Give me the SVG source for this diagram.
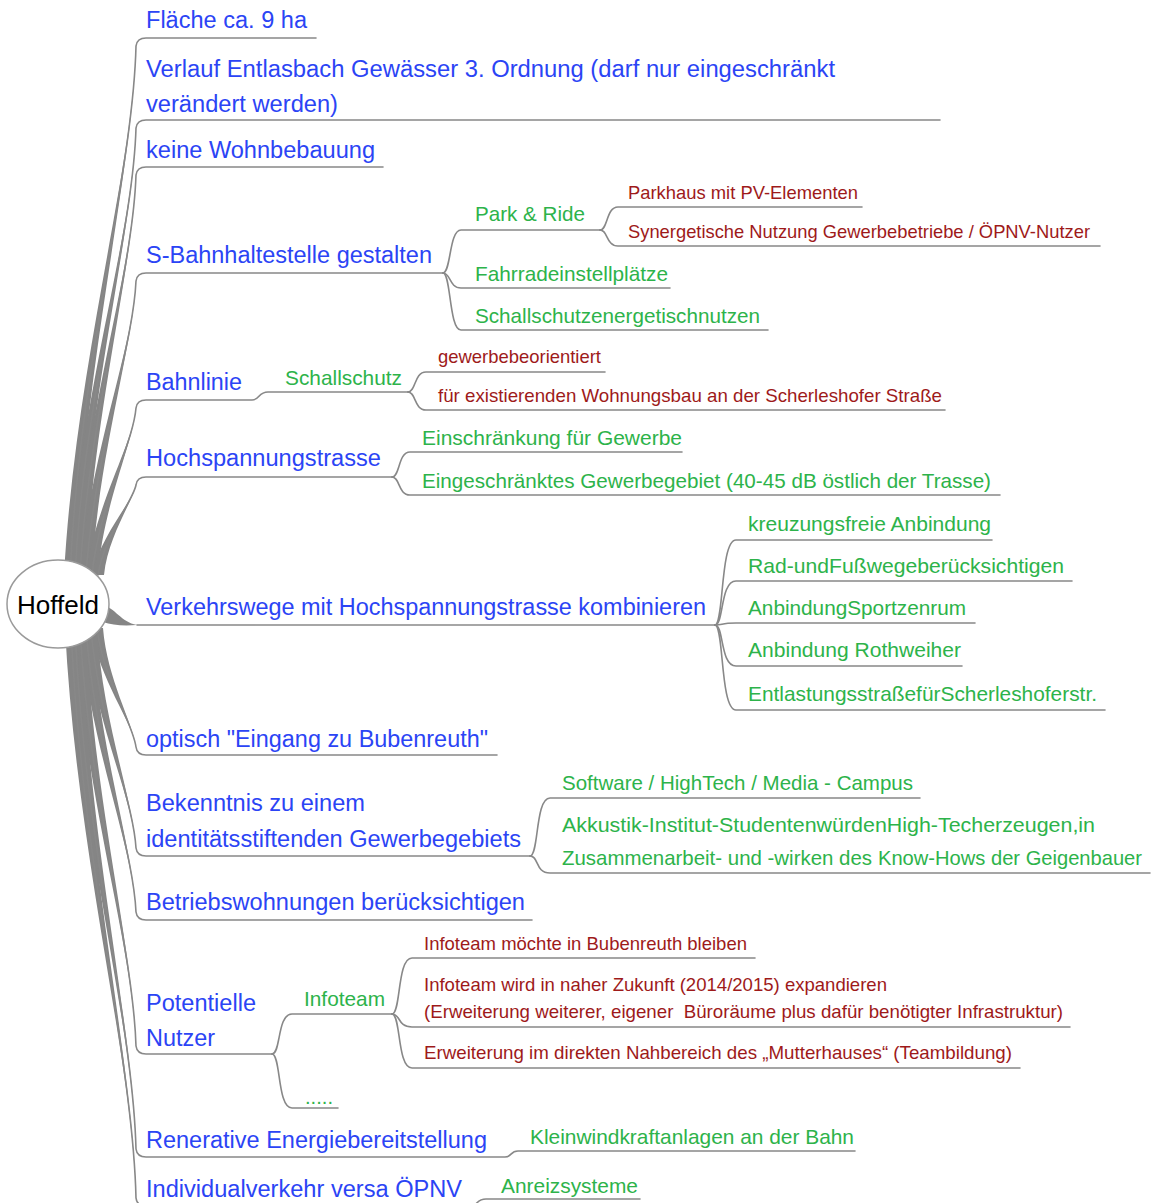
<svg xmlns="http://www.w3.org/2000/svg" width="1155" height="1203" viewBox="0 0 1155 1203">
  <style>
    text { font-family: "Liberation Sans", Arial, sans-serif; }
    .b { fill: #2b44f5; font-size: 23px; }
    .g { fill: #2db34a; font-size: 21px; }
    .r { fill: #9e1a1a; font-size: 19px; }
    .root { fill: #000; font-size: 25px; }
    .ln { fill: none; stroke: #888; stroke-width: 1.6; stroke-linecap: round; }
    .w { fill: #858585; stroke: none; }
  </style>
  <rect width="1155" height="1203" fill="#fff"/>

  <g id="connectors">
    <!-- tapered main branches leaving the root -->
    <g class="w">
      <path d="M64,575 C76,360 133,172 136,46 C133,172 84,360 76,575 Z"/>
      <path d="M69,575 C80,393 133,234 136,128 C133,234 88,393 81,575 Z"/>
      <path d="M74,575 C85,412 133,269 136,175 C133,269 93,412 86,575 Z"/>
      <path d="M80,575 C90,454 133,348 136,281 C133,348 98,454 92,575 Z"/>
      <path d="M86,575 C95,505 133,444 136,408 C133,444 103,505 98,575 Z"/>
      <path d="M92,575 C100,536 133,501 136,485 C133,501 108,536 104,575 Z"/>
      <path d="M103,605 C115,608 121,622 137,625 C122,626 112,625 103,622 Z"/>
      <path d="M91,628 C99,679 133,723 136,747 C133,723 107,679 103,628 Z"/>
      <path d="M85,628 C94,719 133,799 136,848 C133,799 102,719 97,628 Z"/>
      <path d="M80,628 C90,745 133,847 136,912 C133,847 98,745 92,628 Z"/>
      <path d="M74,628 C85,798 133,947 136,1046 C133,947 93,798 86,628 Z"/>
      <path d="M69,628 C80,840 133,1025 136,1149 C133,1025 88,840 81,628 Z"/>
      <path d="M65,628 C77,859 133,1061 136,1198 C133,1061 85,859 77,628 Z"/>
    </g>
    <g class="ln">
      <path d="M70,575 C80,360 133,172 136,46 Q137,38 146,38 H316"/>
      <path d="M75,575 C84,393 133,234 136,128 Q137,120 146,120 H940"/>
      <path d="M80,575 C89,412 133,269 136,175 Q137,167 146,167 H383"/>
      <path d="M86,575 C94,454 133,348 136,281 Q137,273 146,273 H443"/>
      <path d="M92,575 C99,505 133,444 136,408 Q137,400 146,400 H252 C260,400 258,392 268,392 H408"/>
      <path d="M98,575 C104,536 133,501 136,485 Q137,477 146,477 H392"/>
      <path d="M137,625 H715"/>
      <path d="M97,628 C103,679 133,723 136,747 Q137,755 146,755 H497"/>
      <path d="M91,628 C98,719 133,799 136,848 Q137,856 146,856 H530"/>
      <path d="M86,628 C94,745 133,847 136,912 Q137,920 146,920 H532"/>
      <path d="M80,628 C89,798 133,947 136,1046 Q137,1054 146,1054 H272"/>
      <path d="M75,628 C84,840 133,1025 136,1149 Q137,1157 146,1157 H505 C512,1157 510,1151 518,1151 H855"/>
      <path d="M71,628 C81,859 133,1061 136,1198 Q137,1206 146,1206 H470 C478,1206 476,1199 486,1199 H640"/>

      <!-- S-Bahnhaltestelle -->
      <path d="M443,273 C451,273 449,230 461,230 H600"/>
      <path d="M443,273 C451,273 449,288 461,288 H670"/>
      <path d="M443,273 C451,273 449,330 461,330 H768"/>
      <!-- Park & Ride -->
      <path d="M600,230 C608,230 606,207 618,207 H862"/>
      <path d="M600,230 C608,230 606,246 618,246 H1100"/>
      <!-- Schallschutz -->
      <path d="M408,392 C416,392 414,372 426,372 H605"/>
      <path d="M408,392 C416,392 414,410 426,410 H945"/>
      <!-- Hochspannungstrasse -->
      <path d="M392,477 C400,477 398,452 410,452 H682"/>
      <path d="M392,477 C400,477 398,495 410,495 H1000"/>
      <!-- Verkehrswege -->
      <path d="M715,625 C724,625 720,540 736,540 H992"/>
      <path d="M715,625 C724,625 720,581 736,581 H1072"/>
      <path d="M715,625 C724,625 720,623 736,623 H975"/>
      <path d="M715,625 C724,625 720,666 736,666 H962"/>
      <path d="M715,625 C724,625 720,710 736,710 H1105"/>
      <!-- Bekenntnis -->
      <path d="M530,856 C539,856 535,798 550,798 H920"/>
      <path d="M530,856 C539,856 535,873 550,873 H1150"/>
      <!-- Potentielle Nutzer -->
      <path d="M272,1054 C281,1054 277,1014 292,1014 H392"/>
      <path d="M272,1054 C281,1054 277,1108 292,1108 H338"/>
      <!-- Infoteam -->
      <path d="M392,1014 C401,1014 397,958 412,958 H755"/>
      <path d="M392,1014 C401,1014 397,1027 412,1027 H1070"/>
      <path d="M392,1014 C401,1014 397,1068 412,1068 H1020"/>
    </g>
  </g>

  <g id="root">
    <ellipse cx="58" cy="604" rx="51" ry="44" fill="#fff" stroke="#9a9a9a" stroke-width="1.5"/>
    <text class="root" x="58" y="614" text-anchor="middle" textLength="82" lengthAdjust="spacingAndGlyphs">Hoffeld</text>
  </g>

  <g id="n-flaeche"><text class="b" x="146" y="28" textLength="161" lengthAdjust="spacingAndGlyphs">Fläche ca. 9 ha</text></g>
  <g id="n-verlauf">
    <text class="b" x="146" y="77" textLength="689" lengthAdjust="spacingAndGlyphs">Verlauf Entlasbach Gewässer 3. Ordnung (darf nur eingeschränkt</text>
    <text class="b" x="146" y="112" textLength="192" lengthAdjust="spacingAndGlyphs">verändert werden)</text>
  </g>
  <g id="n-keine"><text class="b" x="146" y="158" textLength="229" lengthAdjust="spacingAndGlyphs">keine Wohnbebauung</text></g>

  <g id="n-sbahn"><text class="b" x="146" y="263" textLength="286" lengthAdjust="spacingAndGlyphs">S-Bahnhaltestelle gestalten</text></g>
  <g id="n-parkride"><text class="g" x="475" y="221" textLength="110" lengthAdjust="spacingAndGlyphs">Park &amp; Ride</text></g>
  <g id="n-parkhaus"><text class="r" x="628" y="199" textLength="230" lengthAdjust="spacingAndGlyphs">Parkhaus mit PV-Elementen</text></g>
  <g id="n-synergie"><text class="r" x="628" y="238" textLength="462" lengthAdjust="spacingAndGlyphs">Synergetische Nutzung Gewerbebetriebe / ÖPNV-Nutzer</text></g>
  <g id="n-fahrrad"><text class="g" x="475" y="281" textLength="193" lengthAdjust="spacingAndGlyphs">Fahrradeinstellplätze</text></g>
  <g id="n-schallenerg"><text class="g" x="475" y="323" textLength="285" lengthAdjust="spacingAndGlyphs">Schallschutzenergetischnutzen</text></g>

  <g id="n-bahnlinie"><text class="b" x="146" y="390" textLength="96" lengthAdjust="spacingAndGlyphs">Bahnlinie</text></g>
  <g id="n-schallschutz"><text class="g" x="285" y="385" textLength="117" lengthAdjust="spacingAndGlyphs">Schallschutz</text></g>
  <g id="n-gewerbeorient"><text class="r" x="438" y="363" textLength="163" lengthAdjust="spacingAndGlyphs">gewerbebeorientiert</text></g>
  <g id="n-wohnungsbau"><text class="r" x="438" y="402" textLength="504" lengthAdjust="spacingAndGlyphs">für existierenden Wohnungsbau an der Scherleshofer Straße</text></g>

  <g id="n-hochsp"><text class="b" x="146" y="466" textLength="235" lengthAdjust="spacingAndGlyphs">Hochspannungstrasse</text></g>
  <g id="n-einschraenkung"><text class="g" x="422" y="445" textLength="260" lengthAdjust="spacingAndGlyphs">Einschränkung für Gewerbe</text></g>
  <g id="n-gewerbegebiet"><text class="g" x="422" y="488" textLength="569" lengthAdjust="spacingAndGlyphs">Eingeschränktes Gewerbegebiet (40-45 dB östlich der Trasse)</text></g>

  <g id="n-verkehrswege"><text class="b" x="146" y="615" textLength="560" lengthAdjust="spacingAndGlyphs">Verkehrswege mit Hochspannungstrasse kombinieren</text></g>
  <g id="n-kreuzung"><text class="g" x="748" y="531" textLength="243" lengthAdjust="spacingAndGlyphs">kreuzungsfreie Anbindung</text></g>
  <g id="n-radfuss"><text class="g" x="748" y="573" textLength="316" lengthAdjust="spacingAndGlyphs">Rad-undFußwegeberücksichtigen</text></g>
  <g id="n-sport"><text class="g" x="748" y="615" textLength="218" lengthAdjust="spacingAndGlyphs">AnbindungSportzenrum</text></g>
  <g id="n-rothweiher"><text class="g" x="748" y="657" textLength="213" lengthAdjust="spacingAndGlyphs">Anbindung Rothweiher</text></g>
  <g id="n-entlastung"><text class="g" x="748" y="701" textLength="349" lengthAdjust="spacingAndGlyphs">EntlastungsstraßefürScherleshoferstr.</text></g>

  <g id="n-eingang"><text class="b" x="146" y="747" textLength="342" lengthAdjust="spacingAndGlyphs">optisch "Eingang zu Bubenreuth"</text></g>

  <g id="n-bekenntnis">
    <text class="b" x="146" y="811" textLength="219" lengthAdjust="spacingAndGlyphs">Bekenntnis zu einem</text>
    <text class="b" x="146" y="847" textLength="375" lengthAdjust="spacingAndGlyphs">identitätsstiftenden Gewerbegebiets</text>
  </g>
  <g id="n-software"><text class="g" x="562" y="790" textLength="351" lengthAdjust="spacingAndGlyphs">Software / HighTech / Media - Campus</text></g>
  <g id="n-akkustik">
    <text class="g" x="562" y="832" textLength="533" lengthAdjust="spacingAndGlyphs">Akkustik-Institut-StudentenwürdenHigh-Techerzeugen,in</text>
    <!-- second line set in two runs so each keeps a tight width -->
    <text class="g" x="562" y="865" textLength="310" lengthAdjust="spacingAndGlyphs">Zusammenarbeit- und -wirken des</text>
    <text class="g" x="878" y="865" textLength="264" lengthAdjust="spacingAndGlyphs">Know-Hows der Geigenbauer</text>
  </g>

  <g id="n-betrieb"><text class="b" x="146" y="910" textLength="379" lengthAdjust="spacingAndGlyphs">Betriebswohnungen berücksichtigen</text></g>

  <g id="n-nutzer">
    <text class="b" x="146" y="1011" textLength="110" lengthAdjust="spacingAndGlyphs">Potentielle</text>
    <text class="b" x="146" y="1046" textLength="69" lengthAdjust="spacingAndGlyphs">Nutzer</text>
  </g>
  <g id="n-infoteam"><text class="g" x="304" y="1006" textLength="81" lengthAdjust="spacingAndGlyphs">Infoteam</text></g>
  <g id="n-bleiben"><text class="r" x="424" y="950" textLength="323" lengthAdjust="spacingAndGlyphs">Infoteam möchte in Bubenreuth bleiben</text></g>
  <g id="n-expandieren">
    <text class="r" x="424" y="991" textLength="463" lengthAdjust="spacingAndGlyphs">Infoteam wird in naher Zukunft (2014/2015) expandieren</text>
    <text class="r" x="424" y="1018" textLength="639" lengthAdjust="spacingAndGlyphs" xml:space="preserve">(Erweiterung weiterer, eigener  Büroräume plus dafür benötigter Infrastruktur)</text>
  </g>
  <g id="n-mutterhaus"><text class="r" x="424" y="1059" textLength="588" lengthAdjust="spacingAndGlyphs">Erweiterung im direkten Nahbereich des „Mutterhauses“ (Teambildung)</text></g>
  <g id="n-dots"><text class="g" x="305" y="1104" font-size="12" textLength="28" lengthAdjust="spacingAndGlyphs">.....</text></g>

  <g id="n-energie"><text class="b" x="146" y="1148" textLength="341" lengthAdjust="spacingAndGlyphs">Renerative Energiebereitstellung</text></g>
  <g id="n-wind"><text class="g" x="530" y="1144" textLength="324" lengthAdjust="spacingAndGlyphs">Kleinwindkraftanlagen an der Bahn</text></g>

  <g id="n-individual"><text class="b" x="146" y="1197" textLength="316" lengthAdjust="spacingAndGlyphs">Individualverkehr versa ÖPNV</text></g>
  <g id="n-anreiz"><text class="g" x="501" y="1193" textLength="137" lengthAdjust="spacingAndGlyphs">Anreizsysteme</text></g>
</svg>
